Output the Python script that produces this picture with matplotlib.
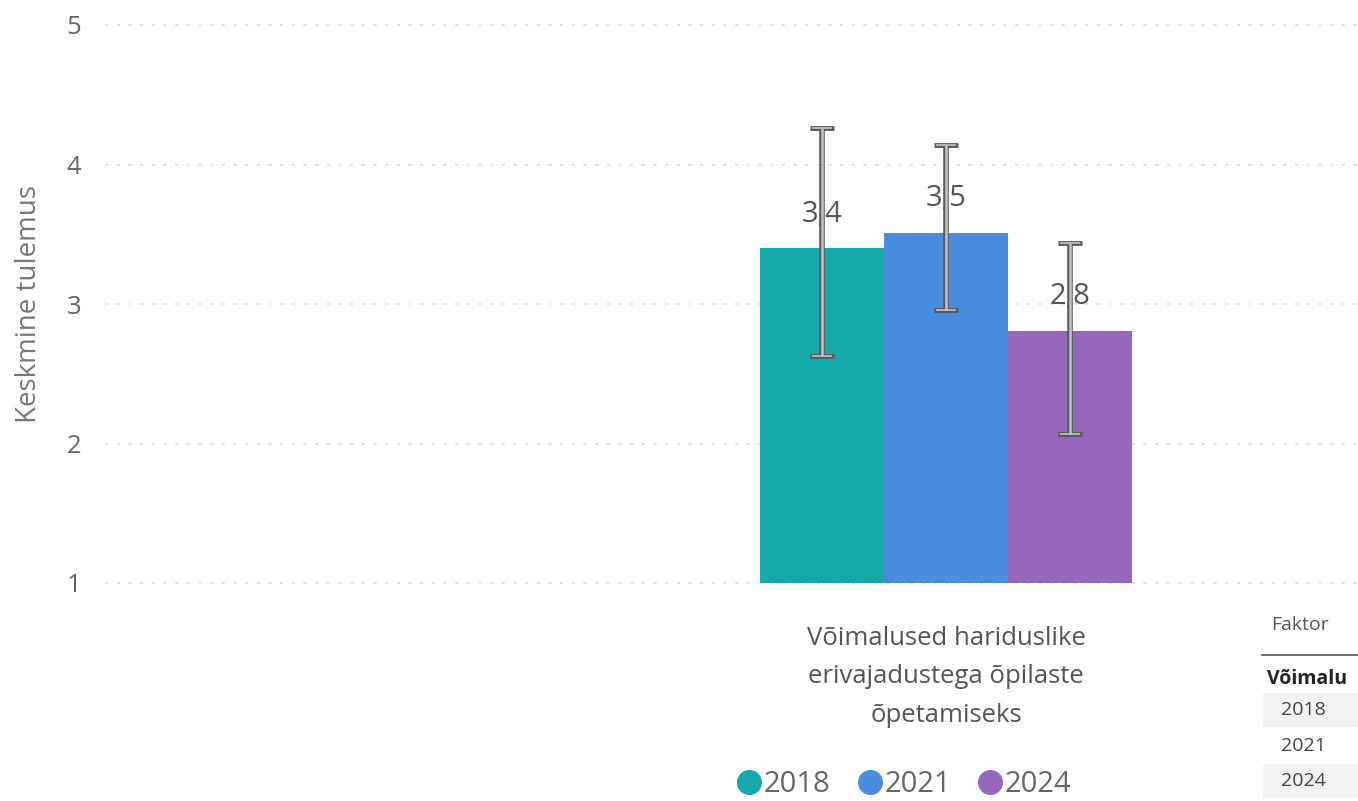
import matplotlib.pyplot as plt
from matplotlib.patches import Rectangle
from matplotlib.lines import Line2D

# data
years = ["2018", "2021", "2024"]
means = [3.40, 3.51, 2.81]
err_low = [2.63, 2.96, 2.07]
err_high = [4.26, 4.14, 3.44]
labels = ["3,4", "3,5", "2,8"]
category = "Võimalused hariduslike\nerivajadustega õpilaste\nõpetamiseks"
colors = ["#15A9AB", "#488DDD", "#9467BC"]

plt.rcParams['font.family'] = ['Open Sans', 'DejaVu Sans']

W, H = 1358, 801
fig = plt.figure(figsize=(W / 100, H / 100), dpi=100)
ax = fig.add_axes([105 / W, (H - 583) / H, (W - 105) / W, 558 / H])

# bar positions: group centred at 0, one unit = one bar width
xs = [-1, 0, 1]
ax.bar(xs, [m - 1 for m in means], bottom=1, width=1.0, color=colors, zorder=2)

for x, m, lo, hi, lab in zip(xs, means, err_low, err_high, labels):
    ax.text(x, m + 0.245, lab, ha='center', va='center', fontsize=21,
            color='#555555', zorder=3)
    yerr = [[m - lo], [hi - m]]
    ax.errorbar([x], [m], yerr=yerr, fmt='none', ecolor='#5a5a5a',
                elinewidth=4, capsize=8.5, capthick=3.5, zorder=4)
    ax.errorbar([x], [m], yerr=yerr, fmt='none', ecolor='#c4c4c4',
                elinewidth=1.8, capsize=7, capthick=1.2, zorder=5)

ax.set_ylim(1, 5)
ax.set_xlim((105 - 946) / 124, (W - 946) / 124)
ax.set_yticks([1, 2, 3, 4, 5])
ax.set_yticklabels(["1", "2", "3", "4", "5"])
ax.tick_params(axis='y', length=0, pad=17, labelsize=18.5, labelcolor='#666666')
ax.set_xticks([0])
ax.set_xticklabels([category], linespacing=1.7)
ax.tick_params(axis='x', length=0, pad=31, labelsize=18.5, labelcolor='#555555')
ax.set_ylabel("Keskmine tulemus", fontsize=20, color='#777777', labelpad=17)

for yv in [1, 2, 3, 4, 5]:
    ax.axhline(yv, color='#d9d9d9', linewidth=1.2, linestyle=(0, (2, 5)),
               zorder=1, clip_on=False)

for s in ax.spines.values():
    s.set_visible(False)

# legend
handles = [Line2D([], [], marker='o', linestyle='', markersize=17,
                  markerfacecolor=c, markeredgecolor=c) for c in colors]
fig.legend(handles, years, loc='center', bbox_to_anchor=(903 / W, 1 - 785 / H),
           ncol=3, frameon=False, fontsize=21, handletextpad=0.0,
           handlelength=1.0, columnspacing=0.85, labelcolor='#666666',
           borderaxespad=0, borderpad=0)

# partial table at bottom right
fig.text(1271 / W, 1 - 625 / H, "Faktor", fontsize=14, color='#555555',
         va='center', ha='left')
fig.add_artist(Line2D([1262 / W, 1], [1 - 655 / H] * 2, color='#555555',
                      linewidth=1.2))
fig.text(1267 / W, 1 - 679 / H, "Võimalu", fontsize=14, color='#222222',
         fontweight='bold', va='center', ha='left')
for i, (yr, yc) in enumerate(zip(years, [710, 746, 781])):
    if i != 1:
        fig.add_artist(Rectangle((1263 / W, 1 - (yc + 17) / H), (W - 1263) / W,
                                 34 / H, facecolor='#f2f2f2', edgecolor='none'))
    fig.text(1303 / W, 1 - yc / H, yr, fontsize=14, color='#444444',
             va='center', ha='center')

fig.savefig("out.png", dpi=100)
